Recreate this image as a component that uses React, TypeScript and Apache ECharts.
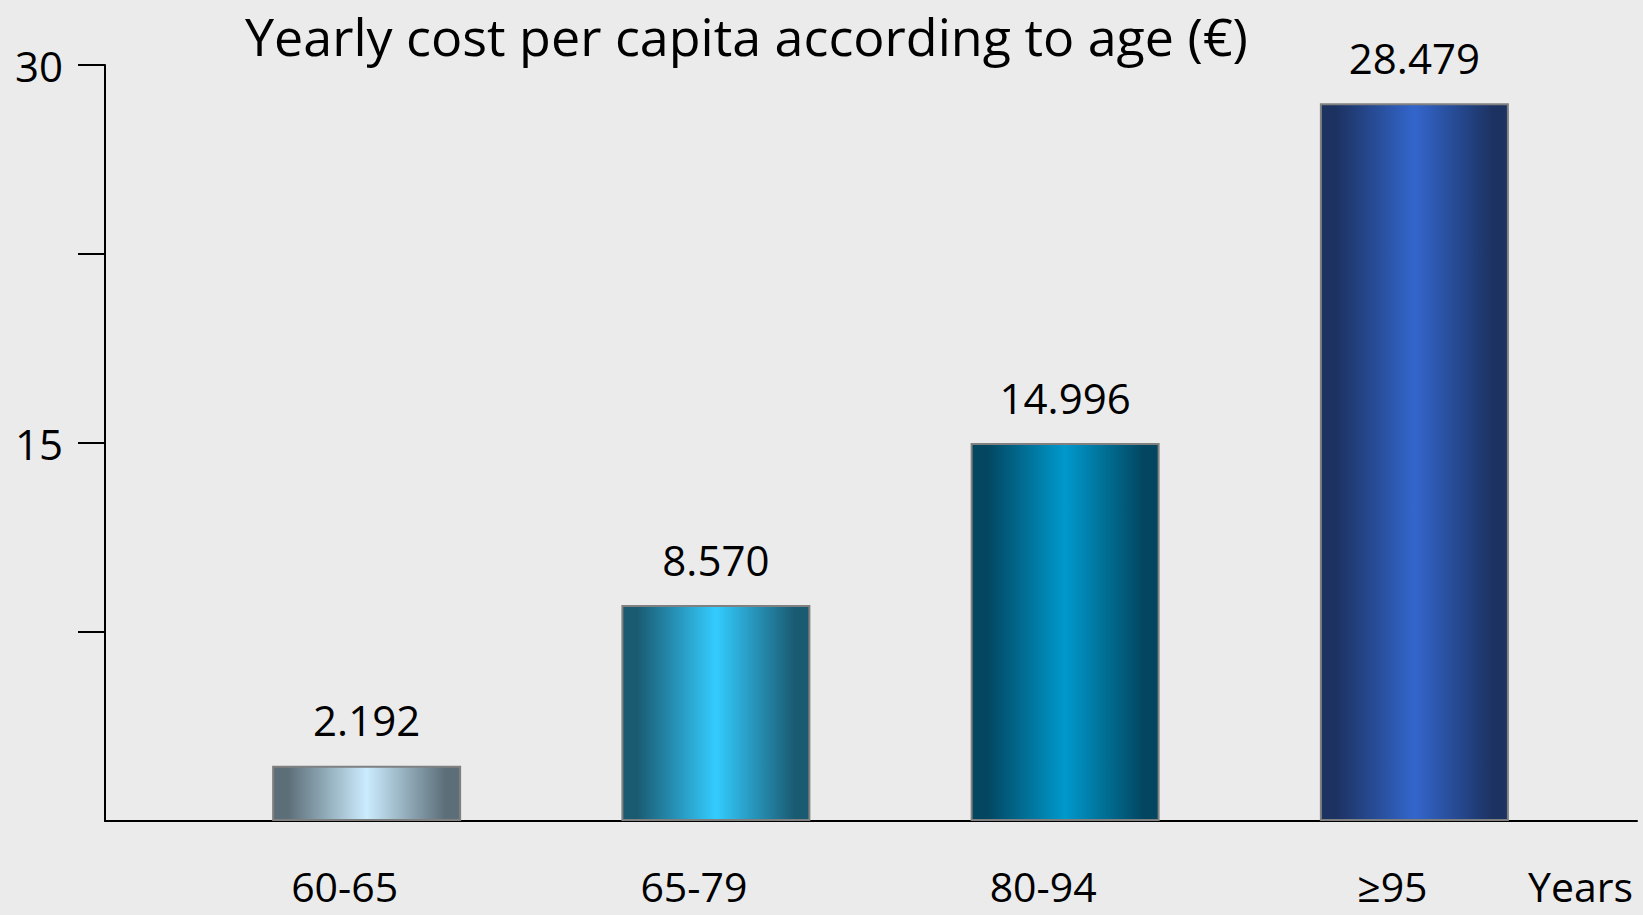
import React, { useEffect, useRef } from "react";
import * as echarts from "echarts";

const titleText = "Yearly cost per capita according to age (€)";
const categories = ["60-65", "65-79", "80-94", "≥95"];
const values = [2.192, 8.57, 14.996, 28.479];
const valueLabels = ["2.192", "8.570", "14.996", "28.479"];
const yTickValues = [7.5, 15, 22.5, 30];
const yLabelValues = [15, 30];
const xUnit = "Years";
const edgeColors = ["#5c6f79", "#1a5b72", "#024660", "#1c3261"];
const centerColors = ["#cbecfe", "#33ccff", "#0099cc", "#3366cc"];

const FONT = "'Open Sans', sans-serif";

function barGradient(i: number) {
  return new echarts.graphic.LinearGradient(0, 0, 1, 0, [
    { offset: 0, color: edgeColors[i] },
    { offset: 0.08, color: edgeColors[i] },
    { offset: 0.5, color: centerColors[i] },
    { offset: 0.92, color: edgeColors[i] },
    { offset: 1, color: edgeColors[i] },
  ]);
}

export default function App() {
  const ref = useRef<HTMLDivElement>(null);
  useEffect(() => {
    if (!ref.current) return;
    const chart = echarts.init(ref.current, null, { renderer: "svg" });
    chart.setOption({
      animation: false,
      backgroundColor: "#ebebeb",
      title: {
        text: titleText,
        left: 240,
        top: 7,
        padding: [0, 5, 0, 5],
        textStyle: { fontFamily: FONT, fontSize: 52, fontWeight: "normal", color: "#000", lineHeight: 56 },
      },
      grid: [
        { left: 105, right: 6, top: 65, bottom: 94 },
        { left: 192, right: 54, top: 65, bottom: 94 },
      ],
      xAxis: [
        {
          type: "value",
          gridIndex: 0,
          min: 0,
          max: 1,
          axisLine: { show: true, lineStyle: { color: "#000", width: 2 } },
          axisTick: { show: false },
          axisLabel: { show: false },
          splitLine: { show: false },
        },
        {
          type: "category",
          gridIndex: 1,
          data: categories,
          axisLine: { show: false },
          axisTick: { show: false },
          axisLabel: {
            margin: 45,
            fontFamily: FONT,
            fontSize: 41,
            lineHeight: 40,
            color: "#000",
            padding: [0, 44, 0, 0],
          },
        },
      ],
      yAxis: [
        {
          type: "value",
          gridIndex: 0,
          min: 0,
          max: 30,
          interval: 7.5,
          axisLine: { show: true, lineStyle: { color: "#000", width: 2 } },
          axisTick: {
            show: true,
            length: 27,
            customValues: yTickValues,
            lineStyle: { color: "#000", width: 2 },
          },
          axisLabel: {
            customValues: yLabelValues,
            margin: 42,
            fontFamily: FONT,
            fontSize: 42,
            color: "#000",
          },
          splitLine: { show: false },
        },
        {
          type: "value",
          gridIndex: 1,
          min: 0,
          max: 30,
          interval: 7.5,
          show: false,
        },
      ],
      graphic: [
        {
          type: "text",
          x: 1528,
          y: 886,
          style: {
            text: xUnit,
            font: `41px ${FONT}`,
            fill: "#000",
            verticalAlign: "middle",
            align: "left",
          },
        },
      ],
      series: [
        {
          type: "bar",
          xAxisIndex: 1,
          yAxisIndex: 1,
          barWidth: 189,
          data: values.map((v, i) => ({
            value: v,
            itemStyle: { color: barGradient(i), borderColor: "#808080", borderWidth: 2 },
          })),
          label: {
            show: true,
            position: "top",
            distance: 24,
            fontFamily: FONT,
            fontSize: 42,
            lineHeight: 44,
            color: "#000",
            formatter: (p: any) => valueLabels[p.dataIndex],
          },
        },
      ],
    });
    return () => chart.dispose();
  }, []);
  return (
    <div
      ref={ref}
      style={{ position: "fixed", left: 0, top: 0, width: 1643, height: 915 }}
    />
  );
}
